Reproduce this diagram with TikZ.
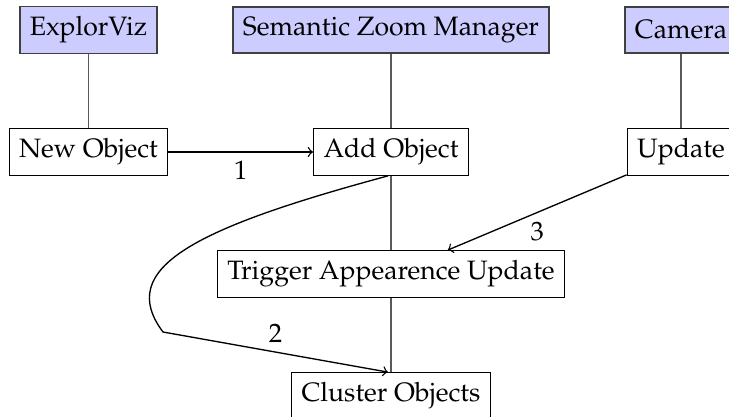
\documentclass[tikz,border=0pt]{standalone}
\usepackage[T1]{fontenc}
\usepackage{mathpazo}
\newlength{\unitpx}
\setlength{\unitpx}{0.376pt}
\tikzset{
  actor/.style={draw=black!75, fill=blue!20, inner sep=0.37em, minimum height=46\unitpx},
  step box/.style={draw=black, fill=white, inner sep=0.37em, minimum height=46\unitpx},
  lifeline/.style={draw=black!65},
  msg/.style={->},
}
\begin{document}
\begin{tikzpicture}[x=\unitpx, y=-\unitpx, line width=0.5pt]
  \useasboundingbox (0,0) rectangle (729,417);
  \clip (0,0) rectangle (729,417);

  % lifelines, drawn first so the boxes sit on top
  \draw[lifeline] (88.5,30) -- (88.5,152);
  \draw[lifeline] (391,30) -- (391,396);
  \draw[lifeline] (681,30) -- (681,152);

  % participants
  \node[actor] (explorviz) at (88.5,30) {ExplorViz};
  \node[actor] (szm) at (391,30) {Semantic Zoom Manager};
  \node[actor] (camera) at (681,30) {Camera};

  % activities
  \node[step box] (newobj) at (88.5,152) {New Object};
  \node[step box] (addobj) at (391,152) {Add Object};
  \node[step box] (update) at (681,152) {Update};
  \node[step box] (trigger) at (391,274) {Trigger Appearence Update};
  \node[step box] (cluster) at (391,396) {Cluster Objects};

  % messages
  \draw[msg] (newobj) -- node[below] {1} (addobj);
  \coordinate (bend) at (163,332);
  \draw[msg] ([xshift=-3\unitpx]addobj.south) .. controls (195,228) and (115,268) .. (bend)
    -- node[above] {2} ([xshift=-3\unitpx]cluster.north);
  \draw[msg] (update) -- node[below] {3} (trigger);
\end{tikzpicture}
\end{document}
